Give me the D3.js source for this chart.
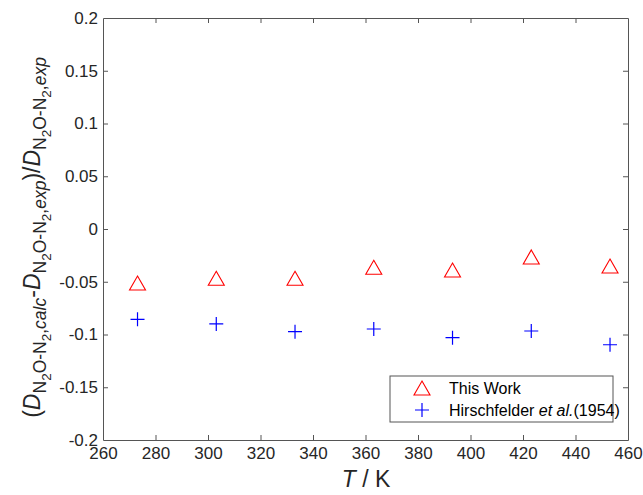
<!DOCTYPE html>
<html>
<head>
<meta charset="utf-8">
<script src="https://cdn.jsdelivr.net/npm/d3@7"></script>
<style>
  html, body { margin: 0; padding: 0; background: #fff; }
  svg { display: block; font-family: "Liberation Sans", Arial, sans-serif; }
</style>
</head>
<body>
<svg id="chart" width="643" height="495"></svg>
<script>
// Temperatures (K) and relative deviations of the diffusion coefficient
const temperatures = [273.15, 303.15, 333.15, 363.15, 393.15, 423.15, 453.15];
const thisWork = [-0.0512, -0.0467, -0.0467, -0.0363, -0.0389, -0.0265, -0.0351];
const hirschfelder = [-0.0856, -0.0900, -0.0973, -0.0948, -0.1030, -0.0967, -0.1097];
const xTicks = [260, 280, 300, 320, 340, 360, 380, 400, 420, 440, 460];
const yTicks = [-0.2, -0.15, -0.1, -0.05, 0, 0.05, 0.1, 0.15, 0.2];
const legendLabels = ["This Work", "Hirschfelder et al.(1954)"];

const svg = d3.select("#chart");
const margin = { left: 103, right: 15, top: 18, bottom: 55 };
const W = 643, H = 495;
const x = d3.scaleLinear().domain([260, 460]).range([margin.left, W - margin.right]);
const y = d3.scaleLinear().domain([-0.2, 0.2]).range([H - margin.bottom, margin.top]);

const axisColor = "#262626";
const tickLen = 5;

function styleAxis(g) {
  g.selectAll("path").attr("stroke", "#555").attr("stroke-width", 1);
  g.selectAll("line").attr("stroke", "#555").attr("stroke-width", 1);
  g.selectAll("text").attr("fill", axisColor).style("font-size", "17px")
    .style("font-family", "'Liberation Sans', Arial, sans-serif");
}

// Bottom axis (labels) and top axis (ticks only), ticks pointing inward
svg.append("g").attr("transform", `translate(0,${y(-0.2)})`)
  .call(d3.axisBottom(x).tickValues(xTicks).tickSizeInner(-tickLen).tickSizeOuter(0).tickPadding(7).tickFormat(d3.format("d")))
  .call(styleAxis);
svg.append("g").attr("transform", `translate(0,${y(0.2)})`)
  .call(d3.axisTop(x).tickValues(xTicks).tickSizeInner(-tickLen).tickSizeOuter(0).tickFormat(""))
  .call(styleAxis);

const yFmt = d => (d === 0 ? "0" : String(+d.toFixed(2)));
svg.append("g").attr("transform", `translate(${x(260)},0)`)
  .call(d3.axisLeft(y).tickValues(yTicks).tickSizeInner(-tickLen).tickSizeOuter(0).tickPadding(5).tickFormat(yFmt))
  .call(styleAxis);
svg.append("g").attr("transform", `translate(${x(460)},0)`)
  .call(d3.axisRight(y).tickValues(yTicks).tickSizeInner(-tickLen).tickSizeOuter(0).tickFormat(""))
  .call(styleAxis);

// Remove end ticks that coincide with the frame
svg.selectAll(".tick").filter(d => d === 260 || d === 460 || d === 0.2 || d === -0.2)
  .select("line").remove();

// Markers
const triPath = "M0,-7L8,7L-8,7Z";
const plusPath = "M-7,0H7M0,-7V7";

svg.append("g").selectAll("path").data(temperatures).join("path")
  .attr("d", triPath)
  .attr("transform", (d, i) => `translate(${x(d)},${y(thisWork[i])})`)
  .attr("fill", "none").attr("stroke", "#ff0000").attr("stroke-width", 1.1);

svg.append("g").selectAll("path").data(temperatures).join("path")
  .attr("d", plusPath)
  .attr("transform", (d, i) => `translate(${x(d)},${y(hirschfelder[i])})`)
  .attr("fill", "none").attr("stroke", "#0000ff").attr("stroke-width", 1.2);

// Legend
const lg = svg.append("g").attr("transform", "translate(390,376)");
lg.append("rect").attr("width", 223).attr("height", 46)
  .attr("fill", "#fff").attr("stroke", "#555").attr("stroke-width", 1);
lg.append("path").attr("d", triPath).attr("transform", "translate(32,12)")
  .attr("fill", "none").attr("stroke", "#ff0000").attr("stroke-width", 1.1);
lg.append("path").attr("d", plusPath).attr("transform", "translate(32,34)")
  .attr("fill", "none").attr("stroke", "#0000ff").attr("stroke-width", 1.2);
lg.append("text").attr("x", 59).attr("y", 18).attr("fill", "#000")
  .style("font-size", "16px").text(legendLabels[0]);
const t2 = lg.append("text").attr("x", 59).attr("y", 40).attr("fill", "#000")
  .style("font-size", "16px");
t2.append("tspan").text("Hirschfelder ");
t2.append("tspan").style("font-style", "italic").text("et al.");
t2.append("tspan").text("(1954)");

// X axis title
const xt = svg.append("text").attr("x", 366).attr("y", 487).attr("text-anchor", "middle")
  .attr("fill", axisColor).style("font-size", "23px");
xt.append("tspan").style("font-style", "italic").text("T");
xt.append("tspan").text(" / K");

// Y axis title with nested subscripts
const yt = svg.append("text")
  .attr("transform", `translate(40,${y(-0.008)}) rotate(-90)`)
  .attr("text-anchor", "middle").attr("fill", axisColor).style("font-size", "23px");

function addD(suffix) {
  yt.append("tspan").style("font-style", "italic").style("font-size", "23px").text("D");
  yt.append("tspan").style("font-size", "17.5px").attr("dy", 6).text("N");
  yt.append("tspan").style("font-size", "13.5px").attr("dy", 5).text("2");
  yt.append("tspan").style("font-size", "17.5px").attr("dy", -5).text("O-N");
  yt.append("tspan").style("font-size", "13.5px").attr("dy", 5).text("2");
  yt.append("tspan").style("font-size", "17.5px").attr("dy", -5).text(",");
  yt.append("tspan").style("font-size", "17.5px").style("font-style", "italic").text(suffix);
}
yt.append("tspan").text("(");
addD("calc");
yt.append("tspan").style("font-size", "23px").attr("dy", -6).text("-");
addD("exp");
yt.append("tspan").style("font-size", "23px").attr("dy", -6).text(")/");
addD("exp");
</script>
</body>
</html>
